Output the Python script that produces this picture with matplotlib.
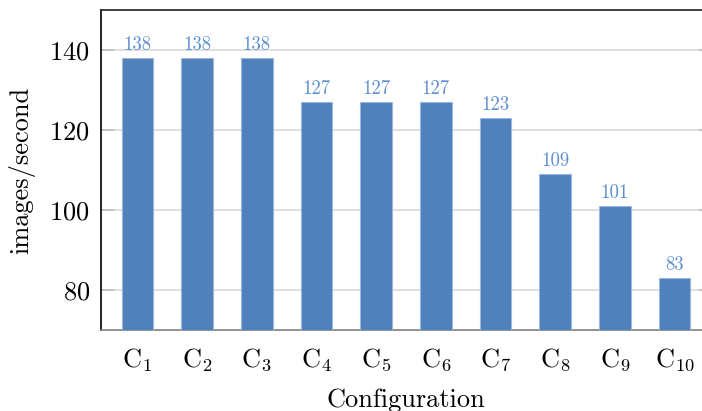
import matplotlib
matplotlib.use("Agg")
import matplotlib.pyplot as plt

# data
configs = [f"$\\mathrm{{C}}_{{{i}}}$" for i in range(1, 11)]
throughput = [138, 138, 138, 127, 127, 127, 123, 109, 101, 83]
yticks = [80, 100, 120, 140]

plt.rcParams["font.family"] = "serif"
plt.rcParams["font.serif"] = ["cmr10"]
plt.rcParams["mathtext.fontset"] = "cm"
plt.rcParams["axes.formatter.use_mathtext"] = True

fig = plt.figure(figsize=(7.02, 4.11), dpi=100)
# axes runs slightly past the right edge of the figure, as in the original
ax = fig.add_axes([101 / 702, 1 - 330 / 411, 610 / 702, 320 / 411])

x = list(range(len(configs)))
bars = ax.bar(x, throughput, width=0.53, color="#4f81bd",
              edgecolor="#9bb7dc", linewidth=0.8, zorder=3)
ax.bar_label(bars, labels=[str(v) for v in throughput], padding=3,
             color="#5b8fd0", fontsize=13.5)

ax.set_xlim(-0.61, 9.61)
ax.set_ylim(70, 150)
ax.set_yticks(yticks)
ax.set_xticks(x)
ax.set_xticklabels(configs)

ax.yaxis.grid(True, color="#d9d9d9", linewidth=1.2, zorder=0)
ax.tick_params(axis="y", direction="in", length=9, width=1.2, color="#bfbfbf",
               right=True, labelsize=19, pad=8)
ax.tick_params(axis="x", length=0, labelsize=19, pad=12)

ax.spines["left"].set_color("black")
ax.spines["top"].set_color("#222222")
ax.spines["bottom"].set_color("#808080")
ax.spines["right"].set_color("#222222")
for s in ax.spines.values():
    s.set_linewidth(1.2)

ax.set_xlabel("Configuration", fontsize=19, labelpad=10)
ax.set_ylabel("images/second", fontsize=19, labelpad=10)

fig.savefig("out.png", dpi=100)
